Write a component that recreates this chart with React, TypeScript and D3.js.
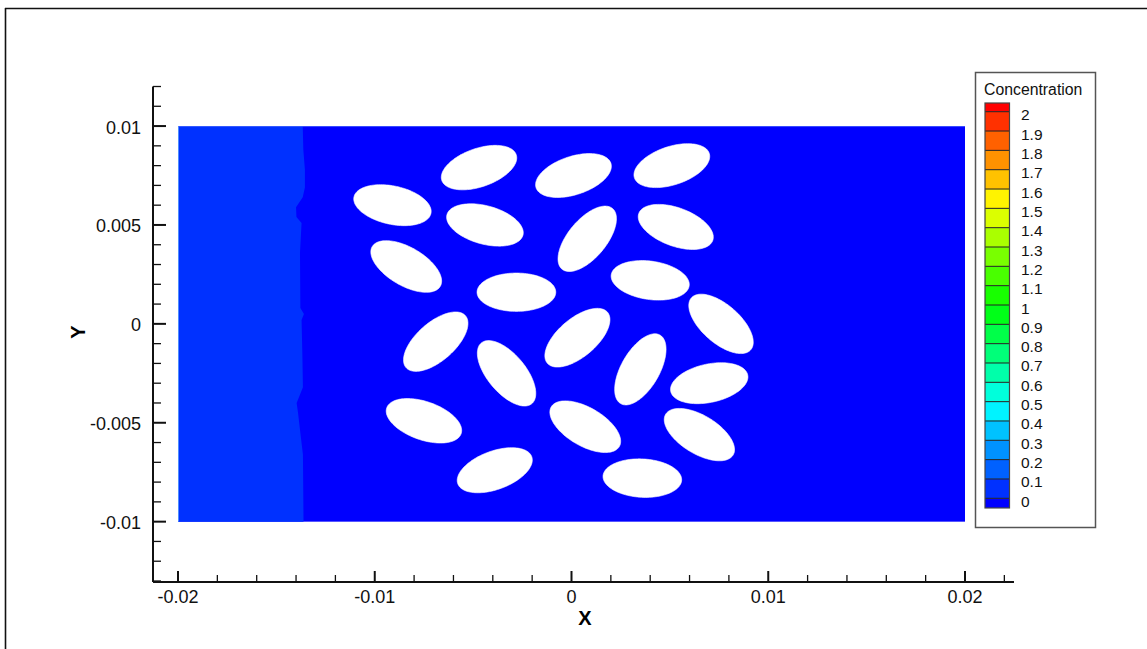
import React from 'react'
import * as d3 from 'd3'

const W = 1147
const H = 649

// particle ellipses: centres (m), tilt in degrees (counter-clockwise)
const ellipseX = [-0.0047, 0.0001, 0.0051, -0.0091, -0.0044, 0.0008, 0.0053, -0.0084, -0.0028, 0.0040, 0.0076,
  -0.0069, 0.0003, -0.0033, 0.0035, 0.0070, -0.0075, 0.0007, 0.0065, -0.0039, 0.0036]
const ellipseY = [0.0079, 0.0075, 0.0080, 0.0060, 0.0050, 0.0043, 0.0049, 0.0029, 0.0016, 0.0022, 0.0000,
  -0.0009, -0.0007, -0.0025, -0.0023, -0.0030, -0.0049, -0.0052, -0.0056, -0.0074, -0.0078]
const ellipseAngle = [19, 18, 18, -12, -15, 50, -20, -30, 0, -8, -41, 41, 40, -50, 60, 12, -19, -30, -31, 20, -3]
const semiMajor = 0.002
const semiMinor = 0.00097

// front of the 0-0.1 band (x, y) going top to bottom
const frontX = [-0.01366, -0.01363, -0.01355, -0.01355, -0.01366, -0.01400, -0.01398, -0.01372, -0.01380,
  -0.01378, -0.01360, -0.01372, -0.01368, -0.01365, -0.01397, -0.01390, -0.01376, -0.01365, -0.01362]
const frontY = [0.0100, 0.0088, 0.0078, 0.0069, 0.0064, 0.0059, 0.0054, 0.0051, 0.0036, 0.0008, 0.0005,
  0.0002, -0.0015, -0.0032, -0.0040, -0.0045, -0.0057, -0.0066, -0.0100]

const xMajor = [-0.02, -0.01, 0, 0.01, 0.02]
const xMajorLabels = ['-0.02', '-0.01', '0', '0.01', '0.02']
const yMajor = [-0.01, -0.005, 0, 0.005, 0.01]
const yMajorLabels = ['-0.01', '-0.005', '0', '0.005', '0.01']

const levels = [2, 1.9, 1.8, 1.7, 1.6, 1.5, 1.4, 1.3, 1.2, 1.1, 1, 0.9, 0.8, 0.7, 0.6, 0.5, 0.4, 0.3, 0.2, 0.1, 0]
const levelLabels = ['2', '1.9', '1.8', '1.7', '1.6', '1.5', '1.4', '1.3', '1.2', '1.1', '1',
  '0.9', '0.8', '0.7', '0.6', '0.5', '0.4', '0.3', '0.2', '0.1', '0']

const FONT = '"Liberation Sans", Arial, Helvetica, sans-serif'

const x = d3.scaleLinear().domain([-0.02, 0.02]).range([178, 965])
const y = d3.scaleLinear().domain([-0.013, 0.012]).range([581, 86.5])
const xExt = [-0.02127, 0.02249]
const yExt = [-0.013, 0.012]

// tecplot-like banded rainbow, 22 bands
const rainbow = d3.scaleLinear<string>()
  .domain([0, 0.25, 0.5, 0.75, 1])
  .range(['#0000ff', '#00ffff', '#00ff00', '#ffff00', '#ff0000'])
  .interpolate(d3.interpolateRgb)
const nBands = levels.length + 1
const bandColor = (k: number) => rainbow(k / (nBands - 1))

const legendY = d3.scaleLinear().domain([0, 2]).range([498.3, 111.7])
const BAR_X = 985
const BAR_W = 24.5

const ellipsePath = (cx: number, cy: number, deg: number) => {
  const th = deg * Math.PI / 180
  const pts = d3.range(0, 2 * Math.PI, Math.PI / 60).map(t => {
    const dx = semiMajor * Math.cos(t)
    const dy = semiMinor * Math.sin(t)
    return [cx + dx * Math.cos(th) - dy * Math.sin(th), cy + dx * Math.sin(th) + dy * Math.cos(th)] as [number, number]
  })
  return d3.line<[number, number]>().x(d => x(d[0])).y(d => y(d[1])).curve(d3.curveLinearClosed)(pts)
}

const App = () => {
  const front: [number, number][] = frontX.map((fx, i) => [fx, frontY[i]])
  const lightPoly: [number, number][] = [[-0.02, 0.01], ...front, [-0.02, -0.01]]
  const line = d3.line<[number, number]>().x(d => x(d[0])).y(d => y(d[1]))

  const xMinor = d3.range(-0.02, 0.0221, 0.002).filter(v => !xMajor.some(m => Math.abs(m - v) < 1e-6))
  const yMinor = d3.range(-0.013, 0.0121, 0.001).filter(v => !yMajor.some(m => Math.abs(m - v) < 1e-6))

  // legend band edges: below 0, each 0.1 step, above 2
  const bandEdges = [-0.05, ...levels.slice().reverse(), 2.045]

  return (
    <svg width={W} height={H} style={{position: 'absolute', left: 0, top: 0, background: '#fff'}}
      fontFamily={FONT}>
      {/* frame */}
      <line x1={5} x2={W} y1={8.5} y2={8.5} stroke="#111" strokeWidth={1.6} />
      <line x1={5.5} x2={5.5} y1={8} y2={H} stroke="#111" strokeWidth={1.6} />

      {/* domain */}
      <rect x={x(-0.02)} y={y(0.01)} width={x(0.02) - x(-0.02)} height={y(-0.01) - y(0.01)} fill={bandColor(0)} />
      <path d={line(lightPoly) + 'Z'} fill={bandColor(1)} />
      <line x1={x(-0.02) + 0.5} x2={x(-0.02) + 0.5} y1={y(0.01)} y2={y(-0.01)} stroke="#4d8dff" strokeWidth={1} />
      <line x1={x(-0.02)} x2={x(0.02)} y1={y(0.01) + 0.5} y2={y(0.01) + 0.5} stroke="#5a78ff" strokeWidth={1} opacity={0.6} />
      {ellipseX.map((cx, i) => (
        <path key={i} d={ellipsePath(cx, ellipseY[i], ellipseAngle[i]) || ''} fill="#fff" stroke="#fff" strokeWidth={0.6} />
      ))}

      {/* y axis */}
      <line x1={153} x2={153} y1={y(yExt[1])} y2={y(yExt[0]) + 1} stroke="#111" strokeWidth={2} />
      {yMinor.map((v, i) => (
        <line key={'ym' + i} x1={153} x2={161} y1={y(v)} y2={y(v)} stroke="#111" strokeWidth={1.3} />
      ))}
      {yMajor.map((v, i) => (
        <g key={'yM' + i}>
          <line x1={153} x2={166} y1={y(v)} y2={y(v)} stroke="#111" strokeWidth={2} />
          <text x={141} y={y(v) + 1.5} textAnchor="end" dominantBaseline="central" fontSize={18} fill="#111">
            {yMajorLabels[i]}
          </text>
        </g>
      ))}

      {/* x axis */}
      <line x1={x(xExt[0])} x2={x(xExt[1])} y1={582} y2={582} stroke="#111" strokeWidth={2} />
      {xMinor.map((v, i) => (
        <line key={'xm' + i} x1={x(v)} x2={x(v)} y1={582} y2={575} stroke="#111" strokeWidth={1.3} />
      ))}
      {xMajor.map((v, i) => (
        <g key={'xM' + i}>
          <line x1={x(v)} x2={x(v)} y1={582} y2={571} stroke="#111" strokeWidth={2} />
          <text x={x(v)} y={597} textAnchor="middle" dominantBaseline="central" fontSize={18} fill="#111">
            {xMajorLabels[i]}
          </text>
        </g>
      ))}

      <text x={585} y={618} textAnchor="middle" dominantBaseline="central" fontSize={20} fontWeight="bold">X</text>
      <text transform="translate(78,332) rotate(-90)" textAnchor="middle" dominantBaseline="central"
        fontSize={20} fontWeight="bold">Y</text>

      {/* legend */}
      <rect x={975.5} y={72.5} width={120} height={455} fill="#fff" stroke="#555" strokeWidth={1.5} />
      <text x={984} y={89} dominantBaseline="central" fontSize={15.8} fill="#111">Concentration</text>
      {bandEdges.slice(0, -1).map((lo, k) => (
        <rect key={'b' + k} x={BAR_X} y={legendY(bandEdges[k + 1])} width={BAR_W}
          height={legendY(lo) - legendY(bandEdges[k + 1])} fill={bandColor(k)} />
      ))}
      {levels.map((lv, i) => (
        <line key={'ll' + i} x1={BAR_X} x2={BAR_X + BAR_W} y1={legendY(lv)} y2={legendY(lv)} stroke="#222" strokeWidth={1} />
      ))}
      <rect x={BAR_X} y={legendY(2.045)} width={BAR_W} height={legendY(-0.05) - legendY(2.045)} fill="none"
        stroke="#444" strokeWidth={1.2} />
      {levels.map((lv, i) => (
        <text key={'lt' + i} x={1021} y={legendY(lv) + 3} dominantBaseline="central" fontSize={15.5} fill="#111">
          {levelLabels[i]}
        </text>
      ))}
    </svg>
  )
}

export default App
